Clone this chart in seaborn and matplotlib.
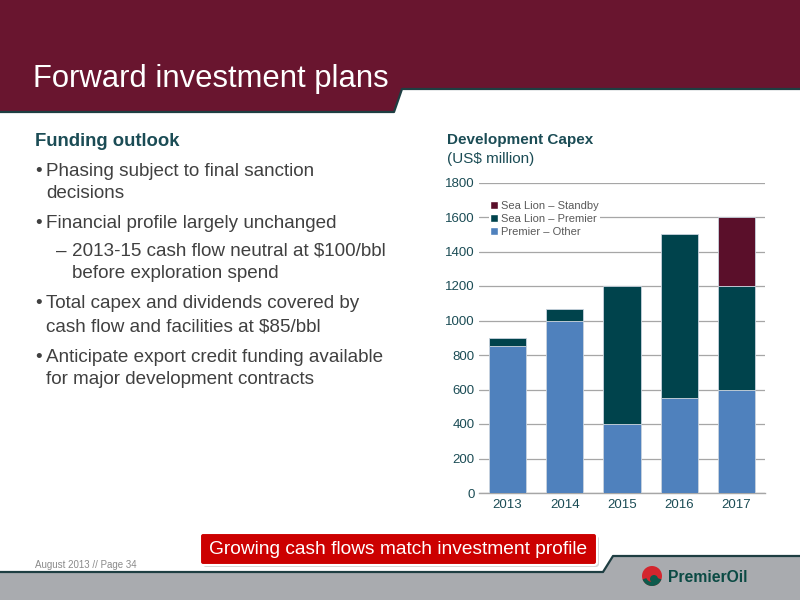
import matplotlib
matplotlib.use("Agg")
import matplotlib.pyplot as plt
import seaborn as sns
import pandas as pd
from matplotlib.patches import Polygon, FancyBboxPatch, Patch, Circle, Wedge

years = ["2013", "2014", "2015", "2016", "2017"]
premier_other = [855, 1000, 400, 550, 600]
sea_lion_premier = [45, 65, 800, 950, 600]
sea_lion_standby = [0, 0, 0, 0, 400]
series_names = ["Sea Lion \u2013 Standby", "Sea Lion \u2013 Premier", "Premier \u2013 Other"]
yticks = [0, 200, 400, 600, 800, 1000, 1200, 1400, 1600, 1800]

C_OTHER = "#4F81BD"
C_PREM = "#00434C"
C_STANDBY = "#5A0F2A"
MAROON = "#69152F"
TEAL_TXT = "#1B4C55"
GRAY_TXT = "#404040"

sns.set_theme(style="white")
plt.rcParams["font.family"] = ["Liberation Sans", "DejaVu Sans"]

fig = plt.figure(figsize=(8, 6), dpi=100)
fig.patch.set_facecolor("white")

# background layer in pixel coordinates
bg = fig.add_axes([0, 0, 1, 1], zorder=0)
bg.set_xlim(0, 800)
bg.set_ylim(600, 0)
bg.axis("off")

# header
bg.add_patch(Polygon([[0, 0], [800, 0], [800, 89], [402, 89], [394, 112], [0, 112]],
                     closed=True, facecolor=MAROON, edgecolor="none"))
bg.plot([0, 394, 402, 800], [112, 112, 89, 89], color="#1E3E42", lw=1.6, solid_capstyle="butt")
bg.text(33, 87, "Forward investment plans", color="white", fontsize=22.3, va="baseline", ha="left")

# footer
bg.add_patch(Polygon([[0, 572], [603, 572], [613, 556], [800, 556], [800, 600], [0, 600]],
                     closed=True, facecolor="#A9ABAF", edgecolor="none"))
bg.plot([0, 603, 613, 800], [572, 572, 556, 556], color="#1E3E42", lw=1.6)
bg.text(35, 565, "August 2013 // Page 34", color="#8A8A8A", fontsize=7, va="center", ha="left")

# callout box
bg.add_patch(FancyBboxPatch((203, 536), 396, 31, boxstyle="round,pad=0,rounding_size=3",
                            facecolor="#BBBBBB", edgecolor="none", alpha=0.6))
bg.add_patch(FancyBboxPatch((200, 533), 397, 32, boxstyle="round,pad=0,rounding_size=3",
                            facecolor="#CC0000", edgecolor="white", lw=1.5))
bg.text(398.5, 550, "Growing cash flows match investment profile", color="white",
        fontsize=13.8, ha="center", va="center")

# logo
bg.add_patch(Circle((652, 576), 10, facecolor="#D3262E", edgecolor="none"))
bg.add_patch(Wedge((652, 576), 10, 20, 160, width=4, facecolor="#0E5A4C", edgecolor="none"))
bg.add_patch(Circle((654, 579), 4, facecolor="#0E5A4C", edgecolor="none"))
bg.text(668, 577, "PremierOil", color="#0B4A44", fontsize=11.3, fontweight="bold",
        ha="left", va="center")

# left text
bg.text(35, 142, "Funding outlook", color=TEAL_TXT, fontsize=13.3, fontweight="bold",
        ha="left", va="center")
lines = [
    (35, 172, "\u2022"), (46, 172, "Phasing subject to final sanction"),
    (46, 194, "decisions"),
    (35, 223, "\u2022"), (46, 223, "Financial profile largely unchanged"),
    (56, 251, "\u2013"), (72, 251, "2013-15 cash flow neutral at $100/bbl"),
    (72, 273, "before exploration spend"),
    (35, 304, "\u2022"), (46, 304, "Total capex and dividends covered by"),
    (46, 327, "cash flow and facilities at $85/bbl"),
    (35, 357, "\u2022"), (46, 357, "Anticipate export credit funding available"),
    (46, 379, "for major development contracts"),
]
for x, y, t in lines:
    bg.text(x, y, t, color=GRAY_TXT, fontsize=13.6, ha="left", va="center")

# chart title
bg.text(447, 140, "Development Capex", color=TEAL_TXT, fontsize=11, fontweight="bold",
        ha="left", va="center")
bg.text(447, 159, "(US$ million)", color=TEAL_TXT, fontsize=11, ha="left", va="center")

# chart axes
ax = fig.add_axes([479 / 800, (600 - 493) / 600, 286 / 800, (493 - 182.5) / 600], zorder=2)
ax.set_facecolor("none")

df = pd.DataFrame({"year": years, "other": premier_other,
                   "premier": sea_lion_premier, "standby": sea_lion_standby})
df["b2"] = df["other"] + df["premier"]

edge = dict(edgecolor="#C9D3DE", linewidth=0.6)
sns.barplot(data=df, x="year", y="other", color=C_OTHER, width=0.65, saturation=1,
            ax=ax, zorder=3, **edge)
sns.barplot(data=df, x="year", y="premier", bottom=df["other"], color=C_PREM, width=0.65,
            saturation=1, ax=ax, zorder=3, **edge)
mask = df["standby"] > 0
sns.barplot(data=df[mask], x="year", y="standby", bottom=df["b2"][mask],
            color=C_STANDBY, width=0.65, saturation=1, ax=ax, zorder=3, order=years, **edge)

ax.set_ylim(0, 1800)
ax.set_xlim(-0.5, 4.5)
ax.set_yticks(yticks)
ax.set_yticklabels([str(v) for v in yticks])
ax.yaxis.grid(True, color="#A6A6A6", lw=0.9, zorder=0)
ax.xaxis.grid(False)
ax.set_axisbelow(True)
for s in ["top", "right", "left"]:
    ax.spines[s].set_visible(False)
ax.spines["bottom"].set_color("#A6A6A6")
ax.spines["bottom"].set_linewidth(1.0)
ax.tick_params(axis="both", length=0, labelsize=9.5, labelcolor=TEAL_TXT)
ax.tick_params(axis="y", pad=3)
ax.tick_params(axis="x", pad=4)
ax.set_xlabel("")
ax.set_ylabel("")

handles = [Patch(facecolor=C_STANDBY), Patch(facecolor=C_PREM), Patch(facecolor=C_OTHER)]
leg = ax.legend(handles, series_names, loc="upper left", bbox_to_anchor=(0.035, 0.945),
                fontsize=8, frameon=True, framealpha=1, edgecolor="none", facecolor="white",
                handlelength=0.7, handleheight=0.7, handletextpad=0.3, labelspacing=0.28,
                borderpad=0.1, borderaxespad=0)
for t in leg.get_texts():
    t.set_color("#595959")
leg.set_zorder(5)

fig.savefig("out.png", dpi=100)
